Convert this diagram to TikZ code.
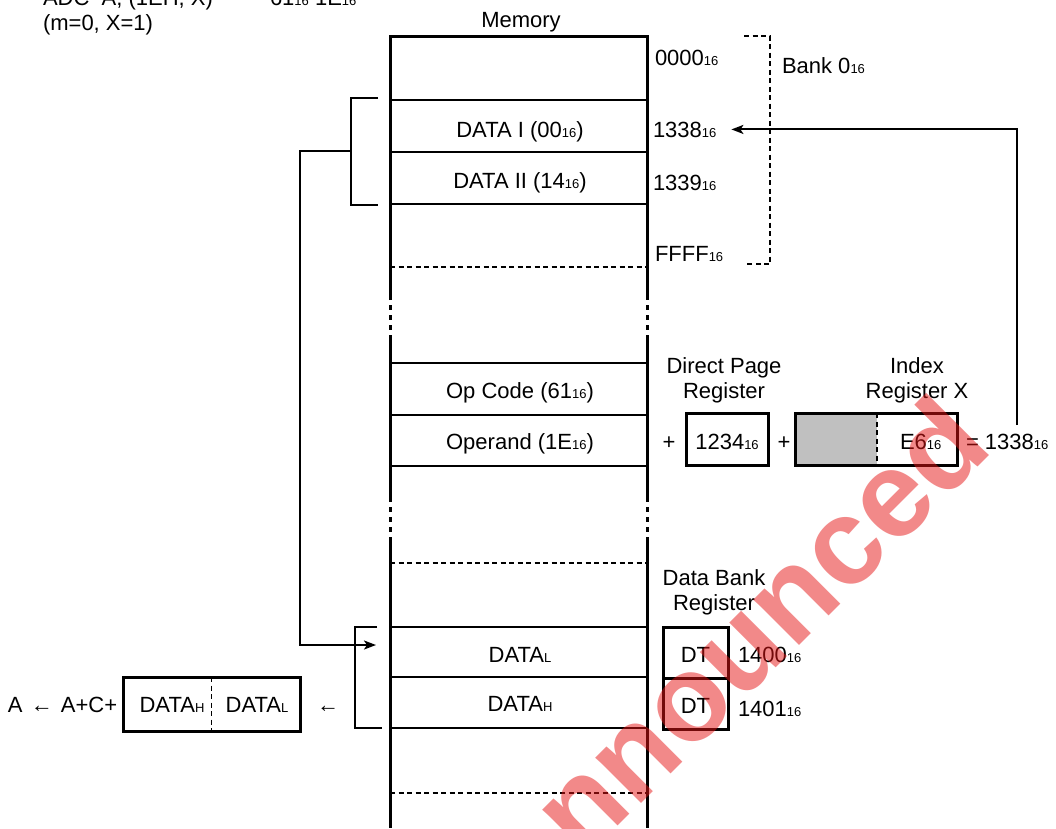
\documentclass[tikz,border=0pt]{standalone}
\usepackage{fontspec}
\setmainfont{Liberation Sans}
\usetikzlibrary{arrows.meta,calc}
\definecolor{regfill}{RGB}{192,192,192}
\definecolor{wmred}{RGB}{230,20,20}
% small baseline-aligned index digits / letters
\newcommand{\sxt}{{\fontsize{13}{13}\selectfont 16}}
\newcommand{\lo}[1]{{\fontsize{13}{13}\selectfont #1}}

\begin{document}
\begin{tikzpicture}[x=1pt,y=-1pt,
  every node/.style={inner sep=0pt, outer sep=0pt, font=\fontsize{22}{25}\selectfont},
  lbl/.style={anchor=base},
  lblw/.style={anchor=base west},
  memedge/.style={line width=3pt},
  rowline/.style={line width=2pt},
  brk/.style={line width=3pt, dash pattern=on 5pt off 5pt, dash phase=5pt},
  rowcut/.style={line width=1.5pt, dash pattern=on 5pt off 3.5pt},
  regbox/.style={draw, line width=3pt, text height=20pt, text depth=0pt},
  conn/.style={line width=2pt},
  arrowed/.style={-{Stealth[length=12pt,width=9pt,inset=3pt]}},
]
\fill[white] (0,0) rectangle (1056,828);
\useasboundingbox (0,0) rectangle (1056,828);
\clip (0,0) rectangle (1056,828);

% ---- instruction ----
\node[lblw] (instr) at (43,5) {ADC\ \ A,\ (1EH, X)};
\node[lblw] (flags) at (43,30) {(m=0, X=1)};
\node[lblw] (code) at (270,5) {61\sxt\ 1E\sxt};

% ---- memory column ----
\draw[memedge] (390,300) -- (390,36) -- (647,36) -- (647,300);
\draw[memedge] (390,338) -- (390,502);
\draw[memedge] (647,338) -- (647,502);
\draw[memedge] (390,540) -- (390,828);
\draw[memedge] (647,540) -- (647,828);
\draw[brk] (390,300) -- (390,338);
\draw[brk] (647,300) -- (647,338);
\draw[brk] (390,502) -- (390,540);
\draw[brk] (647,502) -- (647,540);
\foreach \y in {100,152,204,363,415,466,627,677,728}
  \draw[rowline] (390,\y) -- (647,\y);
\foreach \y in {267,563,793}
  \draw[rowcut] (390,\y) -- (647,\y);

\node[lbl] (memlbl) at (521,27) {Memory};
\node[lbl] (d1) at (520,137) {DATA I (00\sxt)};
\node[lbl] (d2) at (520,188) {DATA II (14\sxt)};
\node[lbl] (opc) at (520,398) {Op Code (61\sxt)};
\node[lbl] (opd) at (520,449) {Operand (1E\sxt)};
\node[lbl] (dl) at (520,662) {DATA\lo{L}};
\node[lbl] (dh) at (520,711) {DATA\lo{H}};

% ---- addresses and bank ----
\node[lblw] (a0) at (655,65) {0000\sxt};
\node[lblw] (a1338) at (653,137) {1338\sxt};
\node[lblw] (a1339) at (653,190) {1339\sxt};
\node[lblw] (affff) at (655,261) {FFFF\sxt};
\node[lblw] (bank) at (782,73) {Bank 0\sxt};
\draw[rowcut] (744,36) -- (770,36) -- (770,264) -- (747,264);

% ---- address calculation ----
\node[anchor=north, align=center] (dplbl) at (724,357.25) {Direct Page\\Register};
\node[anchor=north, align=center] (ixlbl) at (917,357.25) {Index\\Register X};
\node[lbl] (plus1) at (669,449) {+};
\node[regbox, minimum width=82pt, minimum height=52pt] (dpbox) at (727,439) {1234\sxt};
\node[lbl] (plus2) at (784,449) {+};
\node[regbox, minimum width=162pt, minimum height=52pt,
  path picture={\fill[regfill] (path picture bounding box.north west)
    rectangle ([xshift=1pt]path picture bounding box.south);}] (ixbox) at (876,439) {};
\draw[rowcut] ([xshift=1pt]ixbox.north) -- ([xshift=1pt]ixbox.south);
\node[lblw] (e6) at (900,449) {E6\sxt};
\node[lblw] (sum) at (966,449) {= 1338\sxt};
\coordinate (sumtop) at (1017,425);
\draw[conn, arrowed] (sumtop) |- ([xshift=15pt]a1338.east);

% ---- data bank register ----
\node[anchor=north, align=center] (dblbl) at (714,569.25) {Data Bank\\Register};
\node[regbox, minimum width=65pt, minimum height=51pt] (dt1) at (695.5,652.5) {DT};
\node[regbox, minimum width=65pt, minimum height=51pt] (dt2) at (695.5,703.5) {DT};
\node[lblw] (a1400) at (738,662) {1400\sxt};
\node[lblw] (a1401) at (738,716) {1401\sxt};

% ---- brackets and pointer ----
\draw[conn] (378,98) -- (351,98) -- (351,205) -- (378,205);
\coordinate (ubmid) at (351,151);
\draw[conn] (377,627) -- (355,627) -- (355,728) -- (382,728);
\coordinate (lbin) at (376,645);
\draw[conn, arrowed] (ubmid) -- ++(-51,0) |- (lbin);

% ---- result ----
\node[lblw] (acc) at (8,712) {A\hspace{2pt} ← \hspace{2pt}A+C+};
\node[regbox, minimum width=177pt, minimum height=54pt] (res) at (211.5,704) {};
\draw[rowcut] (res.north) -- (res.south);
\node[lbl] (resh) at (172,712) {DATA\lo{H}};
\node[lbl] (resl) at (257,712) {DATA\lo{L}};
\node[lbl] (larr) at (328,712) {←};

% ---- stamp ----
\node[rotate=45, anchor=mid, text=wmred, text opacity=0.5,
  font=\fontsize{122}{122}\selectfont\bfseries] (stamp) at (787,654) {nnounced};
\end{tikzpicture}
\end{document}
